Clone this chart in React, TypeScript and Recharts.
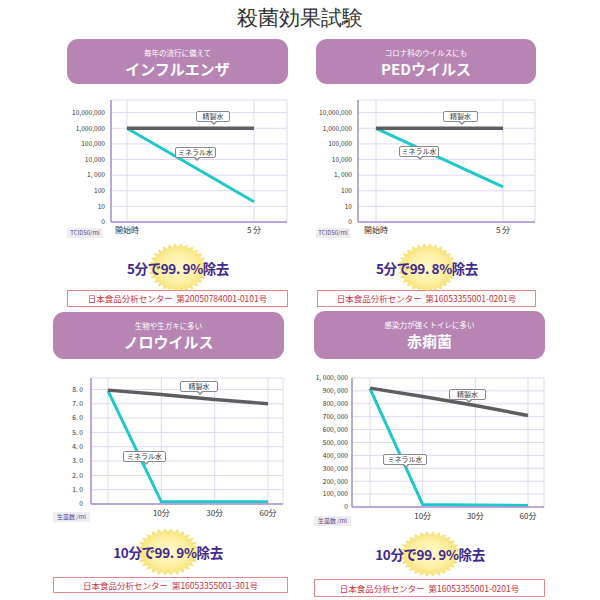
import { LineChart, Line, XAxis, YAxis, CartesianGrid } from 'recharts';

const JP = '"Noto Sans CJK JP", "Noto Sans", sans-serif';
const NB = '\u00a0';

// インフルエンザ (TCID50/ml)
const fluTimes = ['開始時', '5 分'];
const fluPure = [1000000, 1000000];
const fluMineral = [1000000, 20];

// PEDウイルス (TCID50/ml)
const pedTimes = ['開始時', '5 分'];
const pedPure = [1000000, 1000000];
const pedMineral = [1000000, 180];

// ノロウイルス (生菌数 /ml)
const noroTimes = ['', '10分', '30分', '60分'];
const noroPure = [7.95, 7.65, 7.3, 7.0];
const noroMineral = [7.9, 0.15, 0.15, 0.15];

// 赤痢菌 (生菌数 /ml)
const dysTimes = ['', '10分', '30分', '60分'];
const dysPure = [922000, 857000, 787000, 709000];
const dysMineral = [917000, 20000, 15000, 12000];

const logTicks = [0, 1, 2, 3, 4, 5, 6, 7];
const logLabels = ['0', '10', '100', '1, 000', '10,000', '100,000', '1,000,000', '10,000,000'];
const noroTicks = [0, 1, 2, 3, 4, 5, 6, 7, 8];
const dysTicks = [0, 100000, 200000, 300000, 400000, 500000, 600000, 700000, 800000, 900000, 1000000];

const PURE = '#5e5e60';
const MINERAL = '#1ec8ca';
const AXIS = '#a892d2';
const GRID = '#e0d8f0';
const HEAD = '#b784b4';

const toLog = (v: number) => (v > 0 ? Math.log10(v) : 0);
const rows = (times: string[], pure: number[], mineral: number[], f = (v: number) => v) =>
  times.map((t, i) => ({ t, pure: f(pure[i]), mineral: f(mineral[i]) }));

// spaces inside tick labels must not break
const fmtLog = (v: number) => (logLabels[v] ?? '').replace(/ /g, NB);
const fmtNoro = (v: number) => (v === 0 ? '0' : v.toFixed(1).replace('.', '.' + NB));
const fmtDys = (v: number) => (v === 0 ? '0' : v.toLocaleString('en-US').replace(/,/g, ',' + NB));

type ChartProps = {
  data: { t: string; pure: number; mineral: number }[];
  left: number; top: number; width: number; height: number;
  yWidth: number; xHeight: number;
  margin: { top: number; right: number; bottom: number; left: number };
  padding: { left: number; right: number };
  domain: [number, number];
  ticks: number[];
  fmt: (v: number) => string;
  yGap: number; xGap: number;
};

function MiniChart(p: ChartProps) {
  return (
    <div style={{ position: 'absolute', left: p.left, top: p.top }}>
      <LineChart width={p.width} height={p.height} data={p.data} margin={p.margin}>
        <CartesianGrid stroke={GRID} strokeWidth={1} />
        <XAxis
          dataKey="t"
          height={p.xHeight}
          padding={p.padding}
          tickSize={0}
          tickMargin={p.xGap}
          axisLine={{ stroke: AXIS, strokeWidth: 1.5 }}
          tick={{ fontSize: 8, fill: '#333', fontFamily: JP }}
          interval={0}
        />
        <YAxis
          width={p.yWidth}
          domain={p.domain}
          ticks={p.ticks}
          tickFormatter={p.fmt}
          tickSize={0}
          tickMargin={p.yGap}
          interval={0}
          allowDataOverflow
          axisLine={{ stroke: AXIS, strokeWidth: 1.5 }}
          tick={{ fontSize: 6.6, fill: '#333', fontFamily: JP }}
        />
        <Line dataKey="mineral" stroke={MINERAL} strokeWidth={3} dot={false} isAnimationActive={false} />
        <Line dataKey="pure" stroke={PURE} strokeWidth={3.4} dot={false} isAnimationActive={false} />
      </LineChart>
    </div>
  );
}

function Header({ left, top, width, height, sub, title }: { left: number; top: number; width: number; height: number; sub: string; title: string }) {
  return (
    <div
      style={{
        position: 'absolute', left, top, width, height, background: HEAD, borderRadius: 11,
        color: '#fff', textAlign: 'center', fontFamily: JP,
      }}
    >
      <div style={{ fontSize: 7.5, marginTop: 9, lineHeight: '10px' }}>{sub}</div>
      <div style={{ fontSize: 15, fontWeight: 700, lineHeight: '20px', marginTop: 1 }}>{title}</div>
    </div>
  );
}

function Callout({ x, y, w, text }: { x: number; y: number; w: number; text: string }) {
  return (
    <div
      style={{
        position: 'absolute', left: x, top: y, width: w, height: 11, border: '1px solid #8a8a8a',
        borderRadius: 2, background: '#fff', fontSize: 7, lineHeight: '9px', textAlign: 'center',
        color: '#333', fontFamily: JP, boxSizing: 'border-box',
      }}
    >
      {text}
      <div style={{ position: 'absolute', left: w / 2 - 3, top: 10, width: 0, height: 0, borderLeft: '3px solid transparent', borderRight: '3px solid transparent', borderTop: '3px solid #8a8a8a' }} />
      <div style={{ position: 'absolute', left: w / 2 - 2, top: 9, width: 0, height: 0, borderLeft: '2px solid transparent', borderRight: '2px solid transparent', borderTop: '2px solid #fff' }} />
    </div>
  );
}

function Unit({ x, y, w, text }: { x: number; y: number; w: number; text: string }) {
  return (
    <div
      style={{
        position: 'absolute', left: x, top: y, width: w, height: 10, background: '#eeedf2',
        fontSize: 6, lineHeight: '10px', textAlign: 'center', color: '#5a4a8a', fontFamily: JP,
      }}
    >
      {text}
    </div>
  );
}

function Burst({ cx, cy, rx, ry, text, id }: { cx: number; cy: number; rx: number; ry: number; text: string; id: string }) {
  const n = 30;
  const pts: string[] = [];
  for (let i = 0; i < n * 2; i++) {
    const a = (Math.PI * i) / n;
    const k = i % 2 === 0 ? 1 : 0.84;
    pts.push(`${cx + Math.cos(a) * rx * k},${cy + Math.sin(a) * ry * k}`);
  }
  return (
    <>
      <svg style={{ position: 'absolute', left: cx - rx, top: cy - ry }} width={rx * 2} height={ry * 2} viewBox={`${cx - rx} ${cy - ry} ${rx * 2} ${ry * 2}`}>
        <defs>
          <radialGradient id={id}>
            <stop offset="0%" stopColor="#fff8cf" />
            <stop offset="60%" stopColor="#fdf0a4" />
            <stop offset="100%" stopColor="#f8de6c" />
          </radialGradient>
        </defs>
        <polygon points={pts.join(' ')} fill={`url(#${id})`} />
      </svg>
      <div
        style={{
          position: 'absolute', left: cx - 80, top: cy - 10, width: 160, textAlign: 'center',
          fontSize: 13.5, fontWeight: 700, lineHeight: '20px', color: '#3f2a8e', fontFamily: JP,
          letterSpacing: -0.4,
        }}
      >
        {text}
      </div>
    </>
  );
}

function Footer({ x, y, w, h, text }: { x: number; y: number; w: number; h: number; text: string }) {
  return (
    <div
      style={{
        position: 'absolute', left: x, top: y, width: w, height: h, border: '1px solid #e28a8a',
        boxSizing: 'border-box', background: '#fff', fontSize: 8.5, lineHeight: `${h - 2}px`,
        textAlign: 'center', color: '#c8323c', fontFamily: JP, whiteSpace: 'pre',
      }}
    >
      {text}
    </div>
  );
}

export default function App() {
  return (
    <div style={{ position: 'absolute', left: 0, top: 0, width: 600, height: 600, background: '#fff', overflow: 'hidden', fontFamily: JP }}>
      <div style={{ position: 'absolute', left: 0, top: 4, width: 600, textAlign: 'center', fontSize: 21, lineHeight: '28px', color: '#333', fontFamily: '"DejaVu Serif", serif', fontWeight: 300 }}>
        殺菌効果試験
      </div>

      <Header left={67} top={39} width={221} height={45} sub="毎年の流行に備えて" title="インフルエンザ" />
      <Header left={316} top={39} width={220} height={45} sub="コロナ科のウイルスにも" title="PEDウイルス" />
      <Header left={53} top={312} width={231} height={47} sub="生物や生ガキに多い" title="ノロウイルス" />
      <Header left={314} top={311} width={231} height={48} sub="感染力が強くトイレに多い" title="赤痢菌" />

      <MiniChart
        data={rows(fluTimes, fluPure, fluMineral, toLog)}
        left={60} top={95} width={235} height={150} yWidth={51} xHeight={18}
        margin={{ top: 5, right: 8, bottom: 5, left: 0 }} padding={{ left: 16, right: 33 }}
        domain={[0, 7.81]} ticks={logTicks} fmt={fmtLog} yGap={6} xGap={5}
      />
      <MiniChart
        data={rows(pedTimes, pedPure, pedMineral, toLog)}
        left={308} top={95} width={235} height={150} yWidth={50} xHeight={18}
        margin={{ top: 5, right: 8, bottom: 5, left: 0 }} padding={{ left: 18, right: 32 }}
        domain={[0, 7.81]} ticks={logTicks} fmt={fmtLog} yGap={6} xGap={5}
      />
      <MiniChart
        data={rows(noroTimes, noroPure, noroMineral)}
        left={40} top={373} width={250} height={150} yWidth={51} xHeight={14}
        margin={{ top: 5, right: 7, bottom: 5, left: 0 }} padding={{ left: 17, right: 15 }}
        domain={[0, 8.8]} ticks={noroTicks} fmt={fmtNoro} yGap={8} xGap={6}
      />
      <MiniChart
        data={rows(dysTimes, dysPure, dysMineral)}
        left={300} top={373} width={250} height={150} yWidth={52} xHeight={12}
        margin={{ top: 5, right: 6, bottom: 4, left: 0 }} padding={{ left: 18, right: 16 }}
        domain={[0, 1000000]} ticks={dysTicks} fmt={fmtDys} yGap={4} xGap={6}
      />

      <Callout x={196} y={111} w={34} text="精製水" />
      <Callout x={175} y={147} w={41} text="ミネラル水" />
      <Callout x={443} y={111} w={35} text="精製水" />
      <Callout x={399} y={146} w={40} text="ミネラル水" />
      <Callout x={180} y={381} w={38} text="精製水" />
      <Callout x={123} y={451} w={43} text="ミネラル水" />
      <Callout x={449} y={389} w={37} text="精製水" />
      <Callout x={383} y={454} w={44} text="ミネラル水" />

      <Unit x={67} y={228} w={36} text="TCID50/ml" />
      <Unit x={316} y={228} w={34} text="TCID50/ml" />
      <Unit x={53} y={512} w={37} text="生菌数 /ml" />
      <Unit x={314} y={516} w={37} text="生菌数 /ml" />

      <Burst id="b1" cx={178} cy={268} rx={30} ry={25} text="5分で99. 9%除去" />
      <Burst id="b2" cx={427} cy={268} rx={30} ry={25} text="5分で99. 8%除去" />
      <Burst id="b3" cx={168} cy={552} rx={32} ry={24} text="10分で99. 9%除去" />
      <Burst id="b4" cx={430} cy={554} rx={31} ry={23} text="10分で99. 9%除去" />

      <Footer x={67} y={290} w={221} h={17} text="日本食品分析センター  第20050784001-0101号" />
      <Footer x={317} y={290} w={219} h={17} text="日本食品分析センター  第16053355001-0201号" />
      <Footer x={53} y={577} w={235} h={16} text="日本食品分析センター  第16053355001-301号" />
      <Footer x={314} y={579} w={231} h={18} text="日本食品分析センター  第16053355001-0201号" />
    </div>
  );
}
